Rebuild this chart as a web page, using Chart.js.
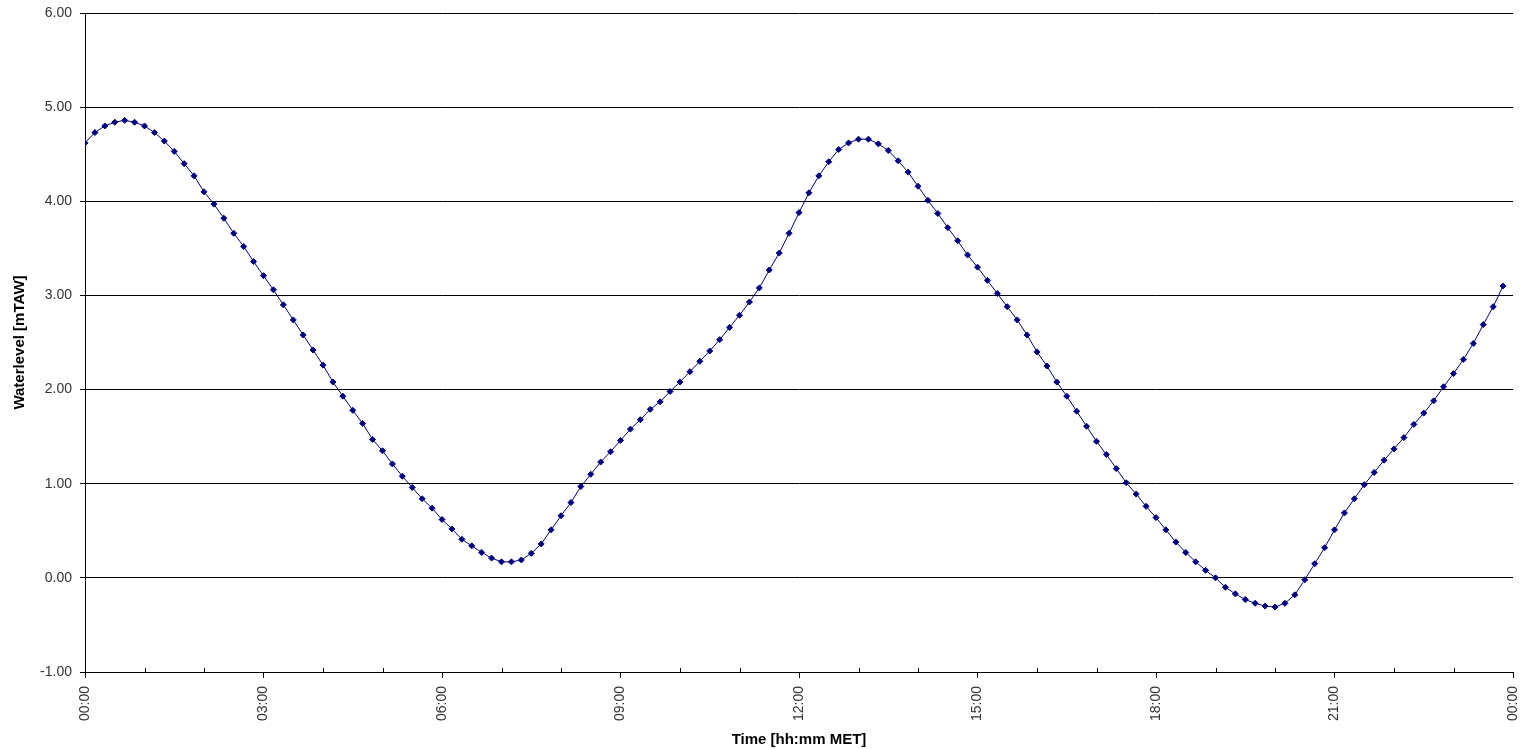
<!DOCTYPE html>
<html>
<head>
<meta charset="utf-8">
<script src="https://cdn.jsdelivr.net/npm/chart.js@4/dist/chart.umd.min.js"></script>
<style>
  html, body { margin: 0; padding: 0; background: #fff; }
  canvas { display: block; }
</style>
</head>
<body>
<canvas id="waterChart" width="1521" height="749"></canvas>
<script>
/* ======= Data ======= */
// water level every 10 minutes, 00:00 .. 23:50
const waterlevel = [
  4.62, 4.73, 4.80, 4.84, 4.86, 4.84, 4.80, 4.73, 4.64, 4.53, 4.40, 4.27,
  4.10, 3.97, 3.82, 3.66, 3.52, 3.36, 3.21, 3.06, 2.90, 2.74, 2.58, 2.42,
  2.26, 2.08, 1.93, 1.78, 1.64, 1.47, 1.35, 1.21, 1.08, 0.96, 0.84, 0.74,
  0.62, 0.52, 0.41, 0.34, 0.27, 0.21, 0.17, 0.17, 0.19, 0.26, 0.36, 0.51,
  0.66, 0.80, 0.97, 1.10, 1.23, 1.34, 1.46, 1.58, 1.68, 1.79, 1.87, 1.98,
  2.08, 2.19, 2.30, 2.41, 2.53, 2.66, 2.79, 2.93, 3.08, 3.27, 3.45, 3.66,
  3.88, 4.09, 4.27, 4.42, 4.55, 4.62, 4.66, 4.66, 4.61, 4.54, 4.43, 4.31,
  4.16, 4.01, 3.87, 3.72, 3.58, 3.43, 3.30, 3.16, 3.02, 2.88, 2.74, 2.58,
  2.40, 2.25, 2.08, 1.93, 1.77, 1.61, 1.45, 1.31, 1.16, 1.01, 0.89, 0.76,
  0.64, 0.51, 0.38, 0.27, 0.17, 0.08, 0.00, -0.10, -0.17, -0.23, -0.27, -0.30,
  -0.31, -0.27, -0.18, -0.02, 0.15, 0.32, 0.51, 0.69, 0.84, 0.99, 1.12, 1.25,
  1.37, 1.49, 1.63, 1.75, 1.88, 2.03, 2.17, 2.32, 2.49, 2.69, 2.88, 3.10
];
const stepMinutes = 10;
const times = waterlevel.map((v, i) => i * stepMinutes); // minutes since 00:00

const xTickLabels = ["00:00", "03:00", "06:00", "09:00", "12:00", "15:00", "18:00", "21:00", "00:00"];
const yMin = -1;
const yMax = 6;

/* minor hour ticks drawn upward from the time axis */
const minorTicks = {
  id: 'minorTicks',
  afterDraw(chart) {
    const xs = chart.scales.x;
    const c = chart.ctx;
    c.save();
    c.strokeStyle = '#000';
    c.lineWidth = 1;
    for (let m = 60; m < 1440; m += 60) {
      if (m % 180 === 0) continue;
      const px = Math.round(xs.getPixelForValue(m)) + 0.5;
      c.beginPath();
      c.moveTo(px, xs.top - 4);
      c.lineTo(px, xs.top);
      c.stroke();
    }
    c.restore();
  }
};

const ctx = document.getElementById('waterChart');
new Chart(ctx, {
  type: 'line',
  data: {
    datasets: [{
      label: 'Waterlevel',
      data: times.map((t, i) => ({ x: t, y: waterlevel[i] })),
      borderColor: '#000080',
      borderWidth: 1,
      backgroundColor: '#000080',
      pointStyle: 'rectRot',
      pointRadius: 3,
      pointBorderWidth: 1,
      pointBorderColor: '#000080',
      pointBackgroundColor: '#000080',
      tension: 0,
    }],
  },
  options: {
    responsive: false,
    animation: false,
    layout: {
      padding: { top: 13, right: 8, left: 0, bottom: 0 }
    },
    plugins: {
      legend: { display: false },
      tooltip: { enabled: false },
    },
    scales: {
      x: {
        type: 'linear',
        min: 0,
        max: 1440,
        afterFit(scale) {
          scale.height = 77;
          scale.paddingLeft = 0;
          scale.paddingRight = 0;
        },
        border: { display: true, color: '#000', width: 1 },
        grid: {
          drawOnChartArea: false,
          drawTicks: true,
          tickLength: 6,
          tickColor: (c) => (c.tick && c.tick.value % 180 === 0) ? '#000' : 'rgba(0,0,0,0)',
        },
        ticks: {
          stepSize: 60,
          autoSkip: false,
          minRotation: 90,
          maxRotation: 90,
          padding: 8,
          color: '#333',
          font: { family: 'Liberation Sans, Arial, sans-serif', size: 14 },
          callback(value) {
            if (value % 180 !== 0) return '';
            return xTickLabels[value / 180];
          },
        },
        title: {
          display: true,
          text: 'Time [hh:mm MET]',
          color: '#000',
          font: { family: 'Liberation Sans, Arial, sans-serif', size: 15, weight: 'bold' },
          padding: { top: 0, bottom: 0 },
        },
      },
      y: {
        min: yMin,
        max: yMax,
        afterFit(scale) {
          scale.width = 85;
          scale.paddingTop = 0;
          scale.paddingBottom = 0;
        },
        border: { display: true, color: '#000', width: 1 },
        grid: {
          color: '#000',
          lineWidth: 1,
          drawTicks: true,
          tickLength: 5,
          tickColor: '#000',
        },
        ticks: {
          stepSize: 1,
          padding: 8,
          color: '#333',
          font: { family: 'Liberation Sans, Arial, sans-serif', size: 14 },
          callback(value) {
            return Number(value).toFixed(2);
          },
        },
        title: {
          display: true,
          text: 'Waterlevel [mTAW]',
          color: '#000',
          font: { family: 'Liberation Sans, Arial, sans-serif', size: 15, weight: 'bold' },
          padding: { top: 11, bottom: 0 },
        },
      },
    },
  },
  plugins: [minorTicks],
});
</script>
</body>
</html>
